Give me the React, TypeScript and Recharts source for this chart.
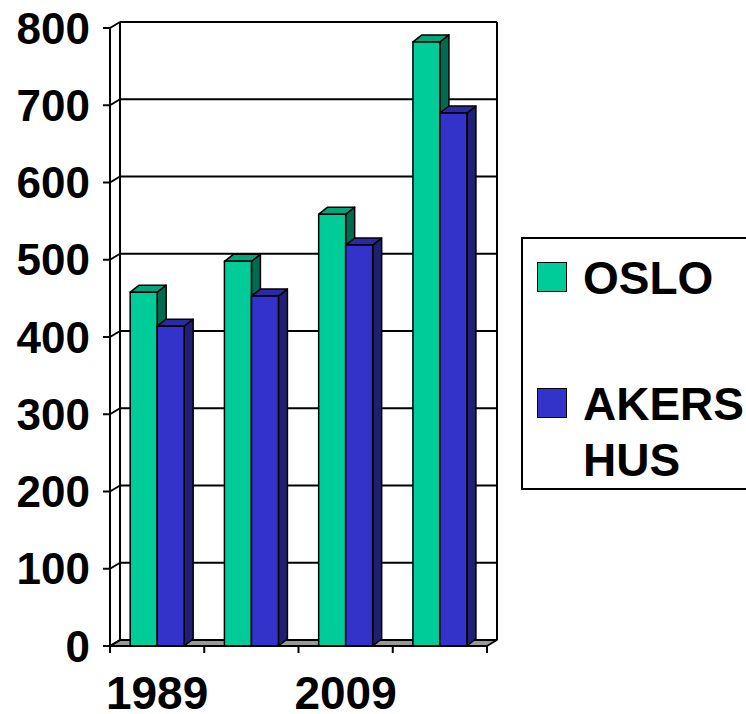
import { Bar, BarChart, CartesianGrid, Legend, XAxis, YAxis } from 'recharts'

const categories = ['1989', '1999', '2009', '2019']
const osloValues = [458, 498, 559, 782]
const akershusValues = [414, 453, 519, 690]
const yTicks = [0, 100, 200, 300, 400, 500, 600, 700, 800]
const seriesNames = { oslo: 'OSLO', akershus: 'AKERSHUS' }
const seriesOrder = [seriesNames.oslo, seriesNames.akershus]

const data = categories.map((year, i) => ({
  year,
  oslo: osloValues[i],
  akershus: akershusValues[i],
}))

// layout of the "3D" box
const W = 746
const H = 714
const PLOT_TOP = 28
const PLOT_BOTTOM = 646
const LEGEND_W = 250
// recharts adds the legend width to the right margin, plot ends at x=487
const RIGHT_MARGIN = W - 487 - LEGEND_W
const WALL_DX = 10
const WALL_DY = 6
const BAR_DX = 9
const BAR_DY = 7
const FONT = '"Liberation Sans", Arial, sans-serif'

const renderGridLine = (props: any) => {
  const { x1, x2, y1, index } = props
  const y = y1
  const isBottom = Math.abs(y - PLOT_BOTTOM) < 1
  return (
    <g key={props.key ?? `grid-${index}`}>
      {isBottom && (
        <>
          <polygon
            points={`${x1},${y} ${x2},${y} ${x2 + WALL_DX},${y - WALL_DY} ${x1 + WALL_DX},${y - WALL_DY}`}
            fill="#999999"
            stroke="#000"
            strokeWidth={1.5}
            strokeLinejoin="round"
          />
          <line x1={x1 + WALL_DX} y1={PLOT_TOP - WALL_DY} x2={x1 + WALL_DX} y2={y - WALL_DY} stroke="#000" strokeWidth={2} />
          <line x1={x2 + WALL_DX} y1={PLOT_TOP - WALL_DY} x2={x2 + WALL_DX} y2={y - WALL_DY} stroke="#000" strokeWidth={2} />
        </>
      )}
      <line x1={x1} y1={y} x2={x1 + WALL_DX} y2={y - WALL_DY} stroke="#000" strokeWidth={2} />
      <line x1={x1 + WALL_DX} y1={y - WALL_DY} x2={x2 + WALL_DX} y2={y - WALL_DY} stroke="#000" strokeWidth={2} />
    </g>
  )
}

function Bar3D(props: any) {
  const { x, y, width, height, fill, topFill, sideFill } = props
  if (!height || height <= 0) return null
  const r = x + width
  const b = y + height
  return (
    <g stroke="#000" strokeWidth={1.5} strokeLinejoin="round">
      <polygon points={`${r},${y} ${r + BAR_DX},${y - BAR_DY} ${r + BAR_DX},${b - BAR_DY} ${r},${b}`} fill={sideFill} />
      <polygon points={`${x},${y} ${x + BAR_DX},${y - BAR_DY} ${r + BAR_DX},${y - BAR_DY} ${r},${y}`} fill={topFill} />
      <rect x={x} y={y} width={width} height={height} fill={fill} />
    </g>
  )
}

function XTick(props: any) {
  const { x, payload, index } = props
  const i = payload?.index ?? index
  const half = payload?.offset ?? (487 - 110) / categories.length / 2
  return (
    <g>
      <line x1={x - half} y1={PLOT_BOTTOM} x2={x - half} y2={PLOT_BOTTOM + 7} stroke="#000" strokeWidth={2} />
      {i === categories.length - 1 && (
        <line x1={x + half} y1={PLOT_BOTTOM} x2={x + half} y2={PLOT_BOTTOM + 7} stroke="#000" strokeWidth={2} />
      )}
      {i % 2 === 0 && (
        <text x={x} y={PLOT_BOTTOM + 63} textAnchor="middle" fontSize={46} fontWeight={700} fill="#000" fontFamily={FONT}>
          {payload.value}
        </text>
      )}
    </g>
  )
}

const legendRowTops = [11, 137]

function LegendBox({ payload }: any) {
  const items = [...(payload || [])].sort(
    (a: any, b: any) => seriesOrder.indexOf(a.value) - seriesOrder.indexOf(b.value)
  )
  return (
    <div
      style={{
        position: 'relative',
        width: LEGEND_W,
        height: 253,
        border: '2px solid #000',
        boxSizing: 'border-box',
        background: '#fff',
        fontFamily: FONT,
      }}
    >
      {items.map((p: any, i: number) => (
        <div key={p.value} style={{ position: 'absolute', left: 14, top: legendRowTops[i], display: 'flex', alignItems: 'flex-start' }}>
          <span
            style={{
              width: 30,
              height: 30,
              boxSizing: 'border-box',
              border: '1.5px solid #000',
              background: p.color,
              marginTop: 12,
              marginRight: 16,
              flex: 'none',
            }}
          />
          <span style={{ width: 175, wordBreak: 'break-all', lineHeight: '56px', fontSize: 46, fontWeight: 700, color: '#000' }}>
            {p.value}
          </span>
        </div>
      ))}
    </div>
  )
}

export default function App() {
  return (
    <div style={{ position: 'absolute', left: 0, top: 0, width: W, height: H, overflow: 'hidden', background: '#fff' }}>
      <BarChart
        width={W}
        height={H}
        data={data}
        margin={{ top: PLOT_TOP, right: RIGHT_MARGIN, bottom: 0, left: 0 }}
        barCategoryGap="21.4%"
        barGap={0}
        style={{ fontFamily: FONT }}
      >
        <CartesianGrid vertical={false} horizontal={renderGridLine} />
        <XAxis
          dataKey="year"
          height={H - PLOT_BOTTOM}
          interval={0}
          tickLine={false}
          axisLine={{ stroke: '#000', strokeWidth: 2 }}
          tick={(p: any) => <XTick {...p} />}
        />
        <YAxis
          width={110}
          domain={[0, 800]}
          ticks={yTicks}
          interval={0}
          tickSize={7}
          tickMargin={13}
          tickLine={{ stroke: '#000', strokeWidth: 2 }}
          axisLine={{ stroke: '#000', strokeWidth: 2 }}
          tick={{ fontSize: 44, fontWeight: 700, fill: '#000', fontFamily: FONT }}
        />
        <Legend
          layout="horizontal"
          align="right"
          verticalAlign="middle"
          content={(p: any) => <LegendBox {...p} />}
          wrapperStyle={{ left: 521, top: 237, width: LEGEND_W, height: 253 }}
        />
        <Bar
          dataKey="oslo"
          name={seriesNames.oslo}
          fill="#00CC99"
          isAnimationActive={false}
          shape={(p: any) => <Bar3D {...p} fill="#00CC99" topFill="#00A57C" sideFill="#006B50" />}
        />
        <Bar
          dataKey="akershus"
          name={seriesNames.akershus}
          fill="#3333CC"
          isAnimationActive={false}
          shape={(p: any) => <Bar3D {...p} fill="#3333CC" topFill="#2A2AA6" sideFill="#1F1F73" />}
        />
      </BarChart>
    </div>
  )
}
